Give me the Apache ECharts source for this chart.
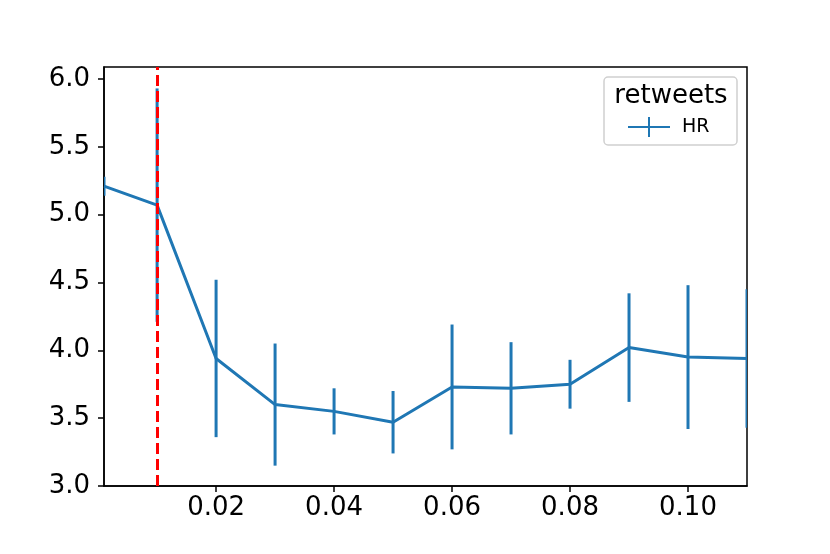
<!DOCTYPE html>
<html>
<head>
<meta charset="utf-8">
<script src="https://cdn.jsdelivr.net/npm/echarts@6/dist/echarts.min.js"></script>
<style>
  html, body { margin: 0; padding: 0; background: #fff; }
  #chart { width: 830px; height: 554px; }
</style>
</head>
<body>
<div id="chart"></div>
<script>
// retweets, HR vs threshold
const xValues = [0.001, 0.01, 0.02, 0.03, 0.04, 0.05, 0.06, 0.07, 0.08, 0.09, 0.10, 0.11]
const hrMean = [5.21, 5.07, 3.94, 3.60, 3.55, 3.47, 3.73, 3.72, 3.75, 4.02, 3.95, 3.94]
const hrErr = [0.07, 0.86, 0.58, 0.45, 0.17, 0.23, 0.46, 0.34, 0.18, 0.40, 0.53, 0.51]
const xTicks = [0.02, 0.04, 0.06, 0.08, 0.10]
const yTicks = [3.0, 3.5, 4.0, 4.5, 5.0, 5.5, 6.0]
const cutoff = 0.01

const blue = '#1f77b4'
const font = 'DejaVu Sans'

const lineData = xValues.map((x, i) => [x, hrMean[i]])
const errData = xValues.map((x, i) => [x, hrMean[i] - hrErr[i], hrMean[i] + hrErr[i]])

const chart = echarts.init(document.getElementById('chart'))
chart.setOption({
  backgroundColor: '#fff',
  animation: false,
  grid: {
    left: 104,
    right: 83,
    top: 67,
    bottom: 68,
    show: true,
    borderColor: '#000',
    borderWidth: 1.5,
    backgroundColor: 'transparent'
  },
  legend: {
    left: 628,
    top: 117,
    itemWidth: 42,
    itemHeight: 20,
    padding: 0,
    icon: 'path://M0,9H42V11H0Z M20,0H22V20H20Z',
    data: [{ name: 'HR', itemStyle: { color: blue } }],
    textStyle: {
      fontFamily: font,
      fontSize: 19,
      color: '#000',
      padding: [0, 0, 0, 7]
    }
  },
  graphic: [
    {
      type: 'rect',
      z: 3,
      shape: { x: 604, y: 77, width: 133, height: 68, r: 4 },
      style: { fill: 'rgba(255,255,255,0.8)', stroke: '#d0d0d0', lineWidth: 1.5 }
    },
    {
      type: 'text',
      z: 4,
      x: 671,
      y: 96,
      style: {
        text: 'retweets',
        fontFamily: font,
        fontSize: 26,
        fill: '#000',
        align: 'center',
        verticalAlign: 'middle'
      }
    }
  ],
  xAxis: {
    type: 'value',
    min: 0.001,
    max: 0.11,
    axisLine: { show: true, lineStyle: { color: '#000', width: 1.5 } },
    axisTick: {
      show: true,
      customValues: xTicks,
      length: 6,
      lineStyle: { color: '#000', width: 1.5 }
    },
    axisLabel: {
      customValues: xTicks,
      formatter: v => v.toFixed(2),
      fontFamily: font,
      fontSize: 26,
      color: '#000',
      margin: 9
    },
    splitLine: { show: false }
  },
  yAxis: {
    type: 'value',
    min: 3.0,
    max: 6.088,
    axisLine: { show: true, lineStyle: { color: '#000', width: 1.5 } },
    axisTick: {
      show: true,
      customValues: yTicks,
      length: 6,
      lineStyle: { color: '#000', width: 1.5 }
    },
    axisLabel: {
      customValues: yTicks,
      formatter: v => v.toFixed(1),
      fontFamily: font,
      fontSize: 26,
      color: '#000',
      margin: 14
    },
    splitLine: { show: false }
  },
  series: [
    {
      name: 'HR',
      type: 'line',
      data: lineData,
      symbol: 'none',
      lineStyle: { color: blue, width: 3 },
      itemStyle: { color: blue },
      clip: true,
      z: 2
    },
    {
      name: 'HR',
      type: 'custom',
      data: errData,
      clip: true,
      z: 2,
      renderItem: (params, api) => {
        const lo = api.coord([api.value(0), api.value(1)])
        const hi = api.coord([api.value(0), api.value(2)])
        return {
          type: 'line',
          shape: { x1: lo[0], y1: lo[1], x2: hi[0], y2: hi[1] },
          style: { stroke: blue, lineWidth: 3 }
        }
      },
      markLine: {
        silent: true,
        symbol: 'none',
        label: { show: false },
        lineStyle: { color: '#ff0000', width: 3, type: [11, 5] },
        data: [{ xAxis: cutoff }],
        z: 5
      }
    }
  ]
})
</script>
</body>
</html>
